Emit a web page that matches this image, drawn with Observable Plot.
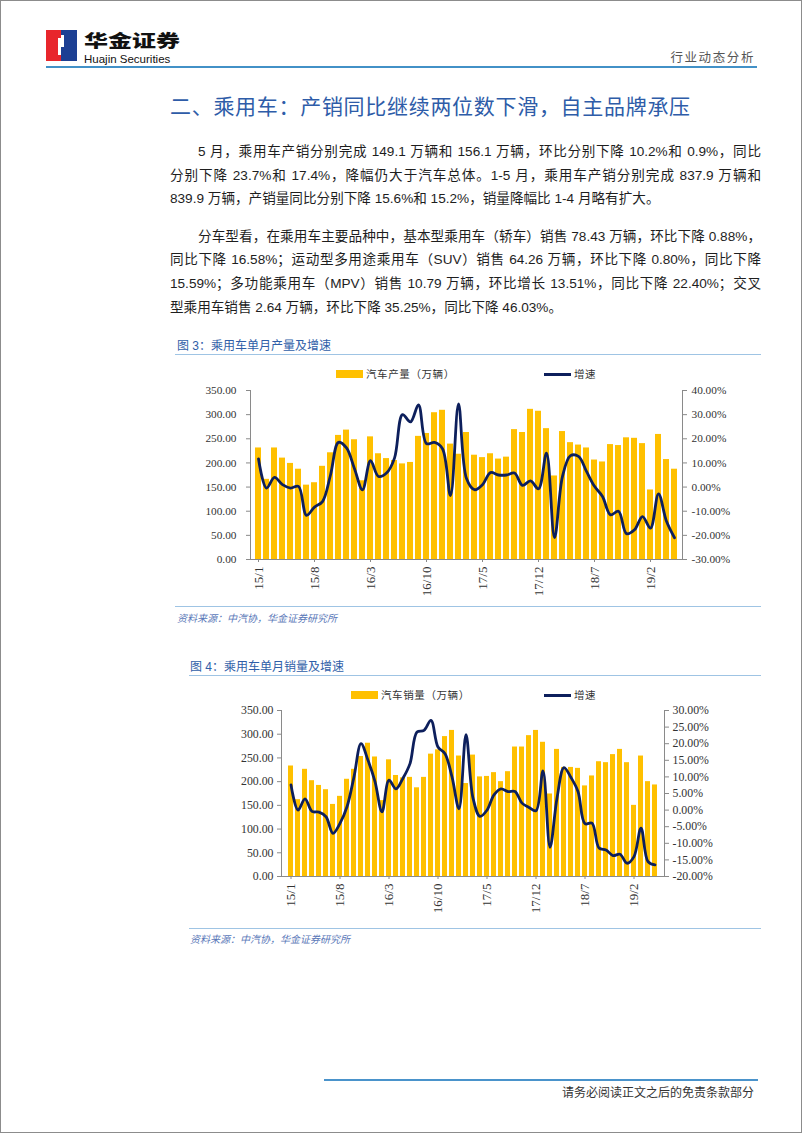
<!DOCTYPE html>
<html><head><meta charset="utf-8">
<script src="https://cdn.jsdelivr.net/npm/d3@7"></script>
<script src="https://cdn.jsdelivr.net/npm/@observablehq/plot@0.6"></script>
<style>
body{margin:0;background:#fff;}
#page{position:relative;width:802px;height:1133px;overflow:hidden;font-family:"Liberation Sans","Noto Sans CJK SC",sans-serif;border:1px solid #8c8c8c;box-sizing:border-box;background:#fff;}
.a{position:absolute;white-space:nowrap;line-height:1;}
.line{position:absolute;height:0;}
.ptxt{position:absolute;font-size:13.6px;color:#1e1e1e;white-space:nowrap;line-height:20px;}
.just{text-align:justify;text-align-last:justify;}
.cap{position:absolute;font-size:12px;color:#2f5ea8;white-space:nowrap;}
.src{position:absolute;font-size:10px;color:#5a78b8;font-style:italic;white-space:nowrap;}
.leg{position:absolute;font-size:10.5px;color:#333;letter-spacing:0.6px;white-space:nowrap;line-height:12px;}
.chart{position:absolute;}
</style></head>
<body>
<div id="page">
  <!-- header -->
  <div class="a" style="left:45px;top:29px;width:15px;height:31px;background:#e8262c;"></div>
  <div class="a" style="left:60px;top:29px;width:16px;height:31px;background:#1c3f93;"></div>
  <div class="a" style="left:57px;top:37px;width:3px;height:17px;background:#fff;"></div>
  <div class="a" style="left:60px;top:34px;width:3px;height:12px;background:#fff;"></div>
  <div class="a" style="left:83px;top:29.5px;font-size:24px;font-weight:900;font-family:'Noto Sans CJK SC';color:#111;transform:scaleY(0.72);transform-origin:0 0;">华金证券</div>
  <div class="a" style="left:83px;top:52.5px;font-size:11.5px;font-family:'Liberation Sans';color:#111;">Huajin Securities</div>
  <div class="a" style="right:46px;top:50px;font-size:12.5px;color:#555;letter-spacing:1.6px;font-family:'Noto Sans CJK SC';">行业动态分析</div>
  <div class="line" style="left:45px;top:65px;width:711px;border-top:2px solid #4291c7;"></div>

  <!-- title -->
  <div class="a" style="left:169px;top:94px;font-size:21px;color:#2e5ca8;letter-spacing:0.7px;font-family:'Noto Sans CJK SC';">二、乘用车：产销同比继续两位数下滑，自主品牌承压</div>

  <!-- paragraph 1 -->
  <div class="ptxt just" style="left:197px;top:141px;width:563px;">5 月，乘用车产销分别完成 149.1 万辆和 156.1 万辆，环比分别下降 10.2%和 0.9%，同比</div>
  <div class="ptxt just" style="left:169px;top:165px;width:591px;">分别下降 23.7%和 17.4%，降幅仍大于汽车总体。1-5 月，乘用车产销分别完成 837.9 万辆和</div>
  <div class="ptxt" style="left:169px;top:188px;">839.9 万辆，产销量同比分别下降 15.6%和 15.2%，销量降幅比 1-4 月略有扩大。</div>
  <!-- paragraph 2 -->
  <div class="ptxt just" style="left:197px;top:226px;width:563px;">分车型看，在乘用车主要品种中，基本型乘用车（轿车）销售 78.43 万辆，环比下降 0.88%，</div>
  <div class="ptxt just" style="left:169px;top:249px;width:591px;">同比下降 16.58%；运动型多用途乘用车（SUV）销售 64.26 万辆，环比下降 0.80%，同比下降</div>
  <div class="ptxt just" style="left:169px;top:273px;width:591px;">15.59%；多功能乘用车（MPV）销售 10.79 万辆，环比增长 13.51%，同比下降 22.40%；交叉</div>
  <div class="ptxt" style="left:169px;top:297px;">型乘用车销售 2.64 万辆，环比下降 35.25%，同比下降 46.03%。</div>

  <!-- figure 3 -->
  <div class="cap" style="left:176px;top:335px;">图 3：乘用车单月产量及增速</div>
  <div class="line" style="left:174px;top:353px;width:586px;border-top:1px solid #9fc4e4;"></div>
  <div class="a" style="left:335px;top:369px;width:27px;height:8px;background:#FFC000;"></div>
  <div class="leg" style="left:365px;top:367px;">汽车产量（万辆）</div>
  <div class="a" style="left:543px;top:372px;width:27px;height:3px;background:#0d1f5c;"></div>
  <div class="leg" style="left:573px;top:367px;">增速</div>
  <div class="chart" id="c1" style="left:174px;top:380px;"></div>
  <div class="line" style="left:174px;top:605px;width:586px;border-top:1px solid #9fc4e4;"></div>
  <div class="src" style="left:176px;top:609px;">资料来源：中汽协，华金证券研究所</div>

  <!-- figure 4 -->
  <div class="cap" style="left:189px;top:656px;">图 4：乘用车单月销量及增速</div>
  <div class="line" style="left:188px;top:674px;width:572px;border-top:1px solid #9fc4e4;"></div>
  <div class="a" style="left:350px;top:690px;width:27px;height:8px;background:#FFC000;"></div>
  <div class="leg" style="left:380px;top:688px;">汽车销量（万辆）</div>
  <div class="a" style="left:543px;top:693px;width:27px;height:3px;background:#0d1f5c;"></div>
  <div class="leg" style="left:573px;top:688px;">增速</div>
  <div class="chart" id="c2" style="left:188px;top:700px;"></div>
  <div class="line" style="left:188px;top:927px;width:572px;border-top:1px solid #9fc4e4;"></div>
  <div class="src" style="left:189px;top:930px;">资料来源：中汽协，华金证券研究所</div>

  <!-- footer -->
  <div class="line" style="left:323px;top:1078px;width:434px;border-top:2px solid #4a93cb;"></div>
  <div class="a" style="right:47px;top:1085px;font-size:12px;color:#333;letter-spacing:0px;font-family:'Noto Sans CJK SC';">请务必阅读正文之后的免责条款部分</div>
</div>
<script>
const months = ["15/1","15/2","15/3","15/4","15/5","15/6","15/7","15/8","15/9","15/10","15/11","15/12",
"16/1","16/2","16/3","16/4","16/5","16/6","16/7","16/8","16/9","16/10","16/11","16/12",
"17/1","17/2","17/3","17/4","17/5","17/6","17/7","17/8","17/9","17/10","17/11","17/12",
"18/1","18/2","18/3","18/4","18/5","18/6","18/7","18/8","18/9","18/10","18/11","18/12",
"19/1","19/2","19/3","19/4","19/5"];
const xTickLabels = ["15/1","15/8","16/3","16/10","17/5","17/12","18/7","19/2"];

// Figure 3: production (万辆) and YoY growth (%)
const production = [231,166,231,210,199,187,154,159,193,221,257,268,
248,163,254,219,209,205,198,201,255,261,304,309,
239,218,263,216,211,219,208,212,269,263,311,307,
271,173,265,242,237,231,206,202,238,236,252,251,
240,144,259,207,187];
const productionGrowth = [11.7,-0.4,4,1,-0.4,0.3,-11.7,-8.3,-6,5,18.5,16.2,
7.6,-1.1,10.9,4.4,5.8,12,30,27,34,18,18.5,15.9,
-3.5,34.4,3.5,-1.1,1,6,5,5,5.8,0.7,2.6,-0.7,
14,-20.9,4.4,13,12.7,6.5,0.3,-3.9,-11.5,-10,-19.3,-17.7,
-12.2,-17,-2.8,-14.2,-21];
const prodLeftTicks = [0,50,100,150,200,250,300,350];
const prodRightTicks = [-30,-20,-10,0,10,20,30,40];

// Figure 4: sales (万辆) and YoY growth (%)
const sales = [233,162,226,202,192,183,152,169,205,226,253,281,
252,160,246,213,208,209,187,209,258,267,295,308,
254,196,256,210,211,219,200,221,273,273,297,308,
283,174,268,230,230,228,191,212,242,240,257,268,
240,150,254,200,193];
const salesGrowth = [7.6,0,3.4,-0.4,-0.6,-2,-7,-4,1,10,20,15,
8.6,-0.5,9,6.4,9.6,14,23.5,24,27,19,17,10,
0.4,22.7,3.6,-1.9,0,4.6,6.4,5.6,5.6,2.1,0.8,-0.2,
11.8,-11.2,3.6,12.8,9.8,5.6,-4.1,-3.9,-11.4,-12,-13.7,-13.3,
-16,-14,-5.4,-15.5,-16.5];
const salesLeftTicks = [0,50,100,150,200,250,300,350];
const salesRightTicks = [-20,-15,-10,-5,0,5,10,15,20,25,30];

function drawChart(el, values, growth, leftTicks, rightTicks, o) {
  const gmin = rightTicks[0], gmax = rightTicks[rightTicks.length-1];
  const k = 350 / (gmax - gmin);
  const toY = g => (g - gmin) * k;
  const data = months.map((m, i) => ({m, v: values[i], g: growth[i]}));
  const chart = Plot.plot({
    width: o.width, height: o.height,
    marginLeft: o.ml, marginRight: o.mr, marginTop: o.mt, marginBottom: o.mb,
    style: {fontFamily: "'Liberation Serif','DejaVu Serif',serif", fontSize: o.fs, color: "#333", background: "transparent", overflow: "visible"},
    x: {type: "band", domain: months, paddingInner: 0.27, paddingOuter: 0.12, label: null},
    y: {domain: [0, 350], label: null},
    marks: [
      Plot.barY(data, {x: "m", y: "v", fill: "#FFC000"}),
      Plot.lineY(data, {x: "m", y: d => toY(d.g), stroke: "#0d1f5c", strokeWidth: 2.8, curve: "catmull-rom"}),
      Plot.frame({anchor: "left", stroke: "#8a8a8a"}),
      Plot.frame({anchor: "right", stroke: "#8a8a8a"}),
      Plot.frame({anchor: "bottom", stroke: "#8a8a8a"}),
      Plot.axisY(leftTicks, {anchor: "left", tickFormat: d => d.toFixed(2), tickSize: 4, tickPadding: o.lp, stroke: "#8a8a8a", label: null}),
      Plot.axisY(rightTicks.map(toY), {anchor: "right", tickFormat: v => (v / k + gmin).toFixed(2) + "%", tickSize: 4, tickPadding: o.rp, stroke: "#8a8a8a", label: null}),
      Plot.axisX(xTickLabels, {anchor: "bottom", tickRotate: -90, tickSize: 3, tickPadding: 4, stroke: "#8a8a8a", fontSize: o.xfs, label: null})
    ]
  });
  document.getElementById(el).appendChild(chart);
}

drawChart("c1", production, productionGrowth, prodLeftTicks, prodRightTicks,
  {width: 586, height: 225, ml: 75, mr: 79, mt: 9, mb: 47, lp: 10, rp: 5, fs: "11.3px", xfs: "13px"});
drawChart("c2", sales, salesGrowth, salesLeftTicks, salesRightTicks,
  {width: 572, height: 225, ml: 92, mr: 97, mt: 9, mb: 50, lp: 4, rp: 4, fs: "11.8px", xfs: "13px"});
</script>
</body></html>
